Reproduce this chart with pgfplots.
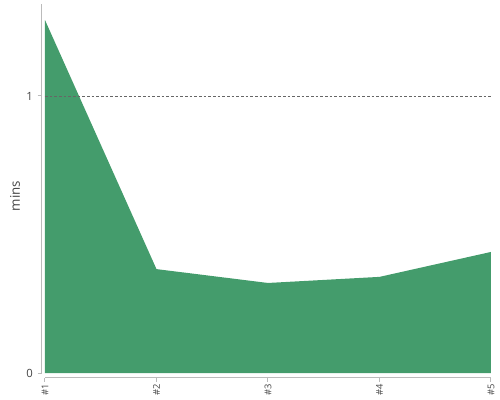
\documentclass[border=0pt]{standalone}
\usepackage{fontspec}
\setmainfont{Open Sans}
\usepackage{pgfplots}
\pgfplotsset{compat=1.18}
\definecolor{areagreen}{HTML}{449C6C}
\definecolor{txt}{HTML}{444444}
\definecolor{axl}{HTML}{BBBBBB}
\begin{document}
\begin{tikzpicture}
\begin{axis}[
  scale only axis,
  width=334.5pt, height=276.75pt,
  xmin=0, xmax=4, ymin=0, ymax=1.332,
  axis lines=left,
  axis line style={draw=axl, line width=0.75pt, -},
  axis y line shift=2.6pt,
  axis x line shift=3.5pt,
  xtick={0,1,2,3,4},
  xticklabels={\#1,\#2,\#3,\#4,\#5},
  ytick={0,1},
  tick align=outside,
  major tick length=3pt,
  tick style={draw=axl, line width=0.75pt},
  xticklabel style={rotate=90, anchor=east, font=\fontsize{7}{8}\selectfont, text=txt, inner sep=1.5pt},
  yticklabel style={font=\fontsize{8.5}{10}\selectfont, text=txt},
  /pgf/number format/assume math mode=true,
  ylabel={mins},
  ylabel style={font=\fontsize{10}{12}\selectfont, text=txt, at={(axis description cs:-0.0673,0.48)}, anchor=center},
  clip=false,
]
\addplot[fill=areagreen, draw=none] coordinates {(0,1.274) (1,0.375) (2,0.325) (3,0.347) (4,0.437)} \closedcycle;
\addplot[draw=black!60, line width=0.5pt, dash pattern=on 2pt off 1.5pt] coordinates {(0,1) (4,1)};
\coordinate (O) at (axis cs:0,0);
\end{axis}
\path[use as bounding box] ([shift={(-33.75pt,-20.25pt)}]O) rectangle ++(375pt,300pt);
\end{tikzpicture}
\end{document}
